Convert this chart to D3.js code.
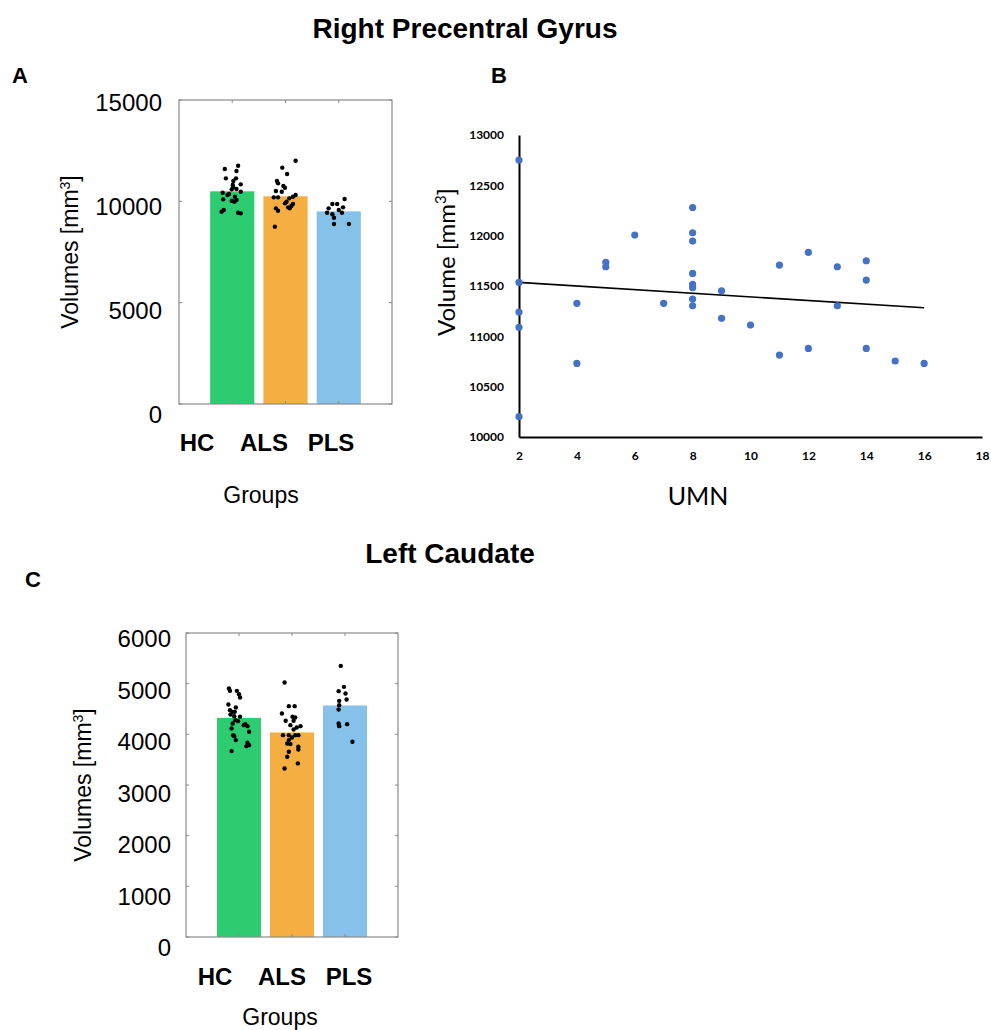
<!DOCTYPE html>
<html>
<head>
<meta charset="utf-8">
<script src="https://cdn.jsdelivr.net/npm/d3@7"></script>
<style>
  body { margin: 0; background: #fff; }
  svg { display: block; }
</style>
</head>
<body>
<script>
// groups + bar heights
var groups = ["HC", "ALS", "PLS"];
var barColors = ["#2ecc71", "#f5ae42", "#85c1e9"];

var meansA = [10495, 10248, 9505];
var meansC = [4325, 4037, 4570];

// individual subjects, panel A (Right Precentral Gyrus)
var hcA = [11757, 11595, 11496, 11135, 11135, 11003, 10839, 10805, 10692, 10608, 10592, 10427, 10361, 10476, 10312, 10229, 10098, 10032, 10065, 9982, 9572, 9490, 9440, 9408];
var hcAJit = [0.11, -0.14, 0.08, -0.12, 0.07, 0.02, 0.16, 0.01, 0.02, 0.08, -0.01, -0.18, -0.06, 0.16, -0.09, 0.05, -0.17, -0.01, 0.08, 0.04, -0.16, -0.20, 0.11, 0.16];
var alsA = [12006, 11661, 11348, 11003, 10888, 10756, 10673, 10509, 10476, 10312, 10229, 10196, 10196, 10147, 9982, 9900, 9868, 9769, 9703, 9654, 9654, 9539, 8750];
var alsAJit = [0.19, -0.06, 0.03, -0.16, -0.14, -0.04, -0.01, -0.18, -0.07, 0.19, 0.14, -0.22, -0.14, 0.07, 0.02, -0.01, 0.14, 0.11, 0.05, 0.08, -0.18, -0.14, -0.20];
var plsA = [10115, 9868, 9868, 9654, 9703, 9572, 9440, 9359, 9440, 9193, 8881, 8881];
var plsAJit = [0.11, -0.12, -0.03, -0.19, 0.08, 0, -0.22, -0.12, 0.06, -0.09, -0.09, 0.19];

// individual subjects, panel C (Left Caudate)
var hcC = [4905, 4858, 4858, 4793, 4727, 4589, 4530, 4477, 4444, 4444, 4392, 4359, 4346, 4280, 4260, 4214, 4201, 4162, 4181, 4116, 4050, 3984, 3964, 3886, 3833, 3787, 3767, 3669];
var hcCJit = [-0.19, -0.17, -0.04, 0, 0.02, -0.2, -0.06, -0.17, -0.12, -0.08, -0.16, -0.09, 0.02, -0.07, -0.02, -0.12, 0.12, 0.16, 0.09, -0.14, 0.19, -0.11, -0.09, -0.06, 0.16, 0.19, 0.14, -0.14];
var alsC = [5023, 4556, 4556, 4412, 4346, 4333, 4267, 4267, 4181, 4162, 4136, 4096, 3984, 3984, 3984, 3984, 3938, 3886, 3820, 3807, 3754, 3702, 3655, 3557, 3426, 3327];
var alsCJit = [-0.14, -0.06, 0.05, -0.19, 0.01, 0.06, -0.12, 0.03, -0.03, 0.16, 0.09, 0.03, -0.17, -0.06, 0.06, 0.12, 0, -0.06, -0.09, -0.03, 0.12, 0.12, -0.06, -0.09, 0.11, -0.14];
var plsC = [5351, 4937, 4852, 4806, 4661, 4688, 4491, 4576, 4214, 4162, 4201, 3853];
var plsCJit = [-0.08, -0.02, -0.12, 0.01, -0.11, 0.03, -0.12, -0.11, -0.12, -0.11, 0.04, 0.14];

// panel B: UMN score vs volume
var umn = [2, 2, 2, 2, 2, 4, 4, 5, 5, 6, 7, 8, 8, 8, 8, 8, 8, 8, 8, 9, 9, 10, 11, 11, 12, 12, 13, 13, 14, 14, 14, 15, 16];
var vol = [12751, 11536, 11241, 11089, 10202, 11328, 10731, 11735, 11691, 12006, 11328, 12280, 12029, 11946, 11625, 11516, 11483, 11370, 11304, 11453, 11179, 11112, 11708, 10814, 11834, 10880, 11691, 11304, 11751, 11559, 10880, 10755, 10731];
var trendX = [2, 16];
var trendY = [11536, 11284];
var ticksB_x = [2, 4, 6, 8, 10, 12, 14, 16, 18];
var ticksB_y = [10000, 10500, 11000, 11500, 12000, 12500, 13000];

var ticksA = [0, 5000, 10000, 15000];
var ticksC = [0, 1000, 2000, 3000, 4000, 5000, 6000];

var sans = "'Liberation Sans', Arial, sans-serif";
var cal = "Lato, 'Open Sans', sans-serif";

var svg = d3.select("body").append("svg")
    .attr("width", 991)
    .attr("height", 1030);

// titles + panel letters
svg.append("text").attr("x", 465).attr("y", 38).attr("text-anchor", "middle")
    .style("font", "bold 28px " + sans).text("Right Precentral Gyrus");
svg.append("text").attr("x", 450).attr("y", 563).attr("text-anchor", "middle")
    .style("font", "bold 28px " + sans).text("Left Caudate");
svg.append("text").attr("x", 12).attr("y", 83).style("font", "bold 22px " + sans).text("A");
svg.append("text").attr("x", 491).attr("y", 83).style("font", "bold 22px " + sans).text("B");
svg.append("text").attr("x", 25).attr("y", 587).style("font", "bold 22px " + sans).text("C");

function barPanel(o) {
    var g = svg.append("g");
    var x = d3.scaleLinear().domain([0, 4]).range([o.left, o.right]);
    var y = d3.scaleLinear().domain([0, o.yMax]).range([o.bottom, o.top]);
    // tick labels in the figure drift a little below their ticks
    var yLab = d3.scaleLinear().domain([0, o.yMax]).range(o.labelSpan);
    var bw = 0.83;

    g.selectAll("rect.bar")
        .data(o.means)
        .enter().append("rect")
        .attr("class", "bar")
        .attr("x", function (d, i) { return x(i + 1 - bw / 2); })
        .attr("y", function (d) { return y(d); })
        .attr("width", x(bw) - x(0))
        .attr("height", function (d) { return o.bottom - y(d); })
        .attr("fill", function (d, i) { return barColors[i]; });

    // subject dots
    o.dots.forEach(function (set, i) {
        g.append("g").selectAll("circle")
            .data(set[0])
            .enter().append("circle")
            .attr("cx", function (d, j) { return x(i + 1 + set[1][j]); })
            .attr("cy", function (d) { return y(d); })
            .attr("r", 2.2)
            .attr("fill", "#000");
    });

    // box with inward ticks (matlab style)
    g.append("rect")
        .attr("x", o.left).attr("y", o.top)
        .attr("width", o.right - o.left).attr("height", o.bottom - o.top)
        .attr("fill", "none").attr("stroke", "#8a8a8a").attr("stroke-width", 1.2);
    [1, 2, 3].forEach(function (k) {
        g.append("line").attr("x1", x(k)).attr("x2", x(k)).attr("y1", o.top).attr("y2", o.top + 3)
            .attr("stroke", "#8a8a8a");
        g.append("line").attr("x1", x(k)).attr("x2", x(k)).attr("y1", o.bottom).attr("y2", o.bottom - 3)
            .attr("stroke", "#8a8a8a");
    });
    o.ticks.forEach(function (t) {
        g.append("line").attr("x1", o.left).attr("x2", o.left + 3).attr("y1", y(t)).attr("y2", y(t))
            .attr("stroke", "#8a8a8a");
        g.append("line").attr("x1", o.right).attr("x2", o.right - 3).attr("y1", y(t)).attr("y2", y(t))
            .attr("stroke", "#8a8a8a");
    });

    g.selectAll("text.ytick")
        .data(o.ticks)
        .enter().append("text")
        .attr("class", "ytick")
        .attr("x", o.labelRight)
        .attr("y", function (d) { return yLab(d); })
        .attr("dy", "0.35em")
        .attr("text-anchor", "end")
        .style("font", "24px " + sans)
        .text(function (d) { return d; });

    // group labels sit a bit off the bars in the original
    var lx = d3.scalePoint().domain(groups).range(o.labelRange);
    g.selectAll("text.grp")
        .data(groups)
        .enter().append("text")
        .attr("class", "grp")
        .attr("x", function (d) { return lx(d); })
        .attr("y", o.labelY)
        .attr("text-anchor", "middle")
        .style("font", "bold 24px " + sans)
        .text(function (d) { return d; });

    g.append("text")
        .attr("x", o.groupsX).attr("y", o.groupsY)
        .attr("text-anchor", "middle")
        .style("font", "23px " + sans)
        .text("Groups");

    var yl = g.append("text")
        .attr("transform", "translate(" + o.titleX + "," + ((o.top + o.bottom) / 2) + ") rotate(-90)")
        .attr("text-anchor", "middle")
        .style("font", "23px " + sans);
    yl.append("tspan").text("Volumes [mm");
    yl.append("tspan").attr("baseline-shift", "super").style("font-size", "14px").text("3");
    yl.append("tspan").text("]");
}

barPanel({
    left: 179, right: 392, top: 100, bottom: 404,
    yMax: 15000, ticks: ticksA, means: meansA,
    dots: [[hcA, hcAJit], [alsA, alsAJit], [plsA, plsAJit]],
    labelSpan: [415, 103], labelRight: 162,
    labelRange: [197, 331], labelY: 451,
    groupsX: 261, groupsY: 503, titleX: 78
});

barPanel({
    left: 186, right: 398, top: 633, bottom: 937,
    yMax: 6000, ticks: ticksC, means: meansC,
    dots: [[hcC, hcCJit], [alsC, alsCJit], [plsC, plsCJit]],
    labelSpan: [948, 639], labelRight: 171,
    labelRange: [215, 349], labelY: 985,
    groupsX: 280, groupsY: 1025, titleX: 91
});

// panel B scatter
var xB = d3.scaleLinear().domain([2, 18]).range([519, 982]);
var yB = d3.scaleLinear().domain([10000, 13000]).range([437, 135]);
var gB = svg.append("g");

var axX = gB.append("g")
    .attr("transform", "translate(0,437)")
    .call(d3.axisBottom(xB).tickValues(ticksB_x).tickSize(0).tickPadding(14));
var axY = gB.append("g")
    .attr("transform", "translate(519,0)")
    .call(d3.axisLeft(yB).tickValues(ticksB_y).tickSize(0).tickPadding(15).tickFormat(d3.format("d")));
[axX, axY].forEach(function (a) {
    a.select(".domain").attr("stroke", "#000").attr("stroke-width", 2);
    a.selectAll("text").style("font", "bold 12px " + cal).attr("fill", "#000");
});

gB.append("path")
    .datum(d3.zip(trendX, trendY))
    .attr("d", d3.line().x(function (d) { return xB(d[0]); }).y(function (d) { return yB(d[1]); }))
    .attr("stroke", "#000").attr("stroke-width", 1.6).attr("fill", "none");

gB.selectAll("circle")
    .data(d3.zip(umn, vol))
    .enter().append("circle")
    .attr("cx", function (d) { return xB(d[0]); })
    .attr("cy", function (d) { return yB(d[1]); })
    .attr("r", 3.6)
    .attr("fill", "#4472c4");

gB.append("text").attr("x", 698).attr("y", 505).attr("text-anchor", "middle")
    .style("font", "25px " + cal).text("UMN");

var ylB = gB.append("text")
    .attr("transform", "translate(455,262) rotate(-90)")
    .attr("text-anchor", "middle")
    .style("font", "24px " + cal);
ylB.append("tspan").text("Volume [mm");
ylB.append("tspan").attr("baseline-shift", "super").style("font-size", "15px").text("3");
ylB.append("tspan").text("]");
</script>
</body>
</html>
